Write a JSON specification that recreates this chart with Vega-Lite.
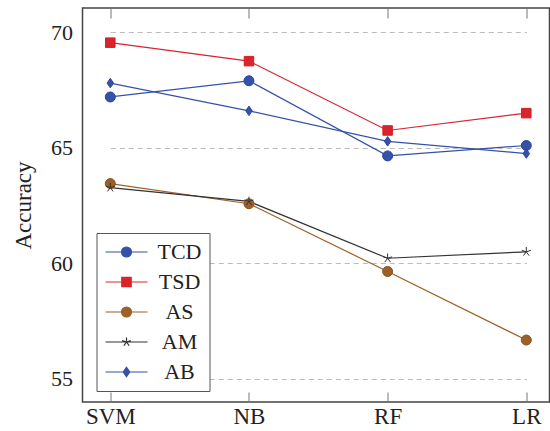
{
  "$schema": "https://vega.github.io/schema/vega-lite/v6.json",
  "width": 467,
  "height": 394,
  "autosize": {"type": "none"},
  "padding": {"left": 82.5, "top": 8, "right": 0, "bottom": 29},
  "background": "white",
  "config": {
    "view": {"stroke": "#444", "strokeWidth": 1.5},
    "font": "Liberation Serif",
    "axis": {"labelFont": "Liberation Serif", "titleFont": "Liberation Serif", "labelColor": "#222", "titleColor": "#222", "titleFontWeight": "normal"},
    "legend": {"labelFont": "Liberation Serif"}
  },
  "data": {"values": [
    {"series": "TCD", "model": "SVM", "acc": 67.2},
    {"series": "TCD", "model": "NB", "acc": 67.9},
    {"series": "TCD", "model": "RF", "acc": 64.65},
    {"series": "TCD", "model": "LR", "acc": 65.1},
    {"series": "TSD", "model": "SVM", "acc": 69.55},
    {"series": "TSD", "model": "NB", "acc": 68.75},
    {"series": "TSD", "model": "RF", "acc": 65.75},
    {"series": "TSD", "model": "LR", "acc": 66.5},
    {"series": "AS", "model": "SVM", "acc": 63.45},
    {"series": "AS", "model": "NB", "acc": 62.58},
    {"series": "AS", "model": "RF", "acc": 59.65},
    {"series": "AS", "model": "LR", "acc": 56.68},
    {"series": "AM", "model": "SVM", "acc": 63.28},
    {"series": "AM", "model": "NB", "acc": 62.68},
    {"series": "AM", "model": "RF", "acc": 60.22},
    {"series": "AM", "model": "LR", "acc": 60.5},
    {"series": "AB", "model": "SVM", "acc": 67.8},
    {"series": "AB", "model": "NB", "acc": 66.6},
    {"series": "AB", "model": "RF", "acc": 65.28},
    {"series": "AB", "model": "LR", "acc": 64.75}
  ]},
  "resolve": {"axis": {"x": "independent"}},
  "layer": [
    {
      "mark": {"type": "line", "strokeWidth": 1.2},
      "encoding": {
        "x": {"field": "model", "type": "ordinal", "sort": ["SVM", "NB", "RF", "LR"],
              "scale": {"type": "point", "range": [27.8, 443.8], "padding": 0},
              "axis": {"orient": "bottom", "title": null, "labelAngle": 0, "labelFont": "Liberation Serif", "labelFontSize": 23, "labelPadding": 13, "tickSize": -10, "tickColor": "#777", "domain": false, "grid": false}},
        "y": {"field": "acc", "type": "quantitative",
              "scale": {"domain": [54, 71.05], "nice": false, "zero": false},
              "axis": {"values": [55, 60, 65, 70], "title": "Accuracy", "titleFont": "Liberation Serif", "titleFontSize": 23, "titlePadding": 15, "labelFont": "Liberation Serif", "labelFontSize": 22, "labelPadding": 10, "tickSize": 0, "domain": false, "grid": true, "gridColor": "#bbb", "gridDash": [5, 4], "gridWidth": 1}},
        "color": {"field": "series", "type": "nominal",
                  "scale": {"domain": ["TCD", "TSD", "AS", "AM", "AB"], "range": ["#3551a8", "#d9242b", "#9c6028", "#333333", "#3551a8"]}},
        "detail": {"field": "series"}
      }
    },
    {
      "transform": [{"filter": {"field": "series", "oneOf": ["TCD", "AS"]}}],
      "mark": {"type": "point", "filled": true, "size": 100, "strokeWidth": 1, "opacity": 1, "shape": "M1,0A1,1 0 1,1 -1,0A1,1 0 1,1 1,0Z"},
      "encoding": {
        "x": {"field": "model", "type": "ordinal", "sort": ["SVM", "NB", "RF", "LR"],
              "axis": {"orient": "top", "title": null, "labels": false, "tickSize": -10, "tickColor": "#777", "domain": false, "grid": false}},
        "y": {"field": "acc", "type": "quantitative"},
        "color": {"field": "series", "type": "nominal"},
        "stroke": {"field": "series", "type": "nominal",
                   "scale": {"domain": ["TCD", "TSD", "AS", "AM", "AB"], "range": ["#2b45a6", "#d41f28", "#8a5320", "#333333", "#2b45a6"]}}
      }
    },
    {
      "transform": [{"filter": {"field": "series", "equal": "TSD"}}],
      "mark": {"type": "point", "filled": true, "size": 100, "strokeWidth": 1, "opacity": 1, "shape": "M-0.95,-0.95H0.95V0.95H-0.95Z"},
      "encoding": {
        "x": {"field": "model", "type": "ordinal", "sort": ["SVM", "NB", "RF", "LR"], "axis": null},
        "y": {"field": "acc", "type": "quantitative"},
        "color": {"field": "series", "type": "nominal"},
        "stroke": {"field": "series", "type": "nominal"}
      }
    },
    {
      "transform": [{"filter": {"field": "series", "equal": "AM"}}],
      "mark": {"type": "point", "filled": true, "size": 100, "strokeWidth": 1, "opacity": 1, "shape": "M0,0L0,-0.95M0,0L-0.9,-0.29M0,0L-0.56,0.77M0,0L0.56,0.77M0,0L0.9,-0.29"},
      "encoding": {
        "x": {"field": "model", "type": "ordinal", "sort": ["SVM", "NB", "RF", "LR"], "axis": null},
        "y": {"field": "acc", "type": "quantitative"},
        "color": {"field": "series", "type": "nominal"},
        "stroke": {"field": "series", "type": "nominal"}
      }
    },
    {
      "transform": [{"filter": {"field": "series", "equal": "AB"}}],
      "mark": {"type": "point", "filled": true, "size": 100, "strokeWidth": 1, "opacity": 1, "shape": "M0,-0.95L0.65,0L0,0.95L-0.65,0Z"},
      "encoding": {
        "x": {"field": "model", "type": "ordinal", "sort": ["SVM", "NB", "RF", "LR"], "axis": null},
        "y": {"field": "acc", "type": "quantitative"},
        "color": {"field": "series", "type": "nominal"},
        "stroke": {"field": "series", "type": "nominal"}
      }
    },
    {
      "mark": {"type": "point", "filled": true, "size": 100, "strokeWidth": 1.2, "opacity": 0},
      "encoding": {
        "x": {"field": "model", "type": "ordinal", "sort": ["SVM", "NB", "RF", "LR"], "axis": null},
        "y": {"field": "acc", "type": "quantitative"},
        "color": {"field": "series", "type": "nominal",
                  "legend": {"orient": "none", "legendX": 14, "legendY": 225, "title": null, "direction": "vertical",
                    "labelFont": "Liberation Serif", "labelFontSize": 22, "labelColor": "#222",
                    "labelAlign": "center", "labelOffset": 53,
                    "symbolSize": 400, "symbolStrokeWidth": 1.2, "symbolOpacity": 1,
                    "rowPadding": 8, "padding": 8,
                    "strokeColor": "#555", "fillColor": "white", "cornerRadius": 0}},
        "stroke": {"field": "series", "type": "nominal",
                  "legend": {"orient": "none", "legendX": 14, "legendY": 225, "title": null, "direction": "vertical",
                    "labelFont": "Liberation Serif", "labelFontSize": 22, "labelColor": "#222",
                    "labelAlign": "center", "labelOffset": 53,
                    "symbolSize": 400, "symbolStrokeWidth": 1.2, "symbolOpacity": 1,
                    "rowPadding": 8, "padding": 8,
                    "strokeColor": "#555", "fillColor": "white", "cornerRadius": 0}},
        "shape": {"field": "series", "type": "nominal",
                  "scale": {"domain": ["TCD", "TSD", "AS", "AM", "AB"],
                            "range": [
                              "M-1,0H3.2M1.6,0A0.5,0.5 0 1,1 0.6,0A0.5,0.5 0 1,1 1.6,0Z",
                              "M-1,0H3.2M0.63,-0.47H1.57V0.47H0.63Z",
                              "M-1,0H3.2M1.6,0A0.5,0.5 0 1,1 0.6,0A0.5,0.5 0 1,1 1.6,0Z",
                              "M-1,0H3.2M1.1,0L1.1,-0.45M1.1,0L0.672,-0.139M1.1,0L0.835,0.364M1.1,0L1.365,0.364M1.1,0L1.528,-0.139",
                              "M-1,0H3.2M1.1,-0.47L1.43,0L1.1,0.47L0.77,0Z"
                            ]},
                  "legend": {"orient": "none", "legendX": 14, "legendY": 225, "title": null, "direction": "vertical",
                    "labelFont": "Liberation Serif", "labelFontSize": 22, "labelColor": "#222",
                    "labelAlign": "center", "labelOffset": 53,
                    "symbolSize": 400, "symbolStrokeWidth": 1.2, "symbolOpacity": 1,
                    "rowPadding": 8, "padding": 8,
                    "strokeColor": "#555", "fillColor": "white", "cornerRadius": 0}}
      }
    }
  ]
}
